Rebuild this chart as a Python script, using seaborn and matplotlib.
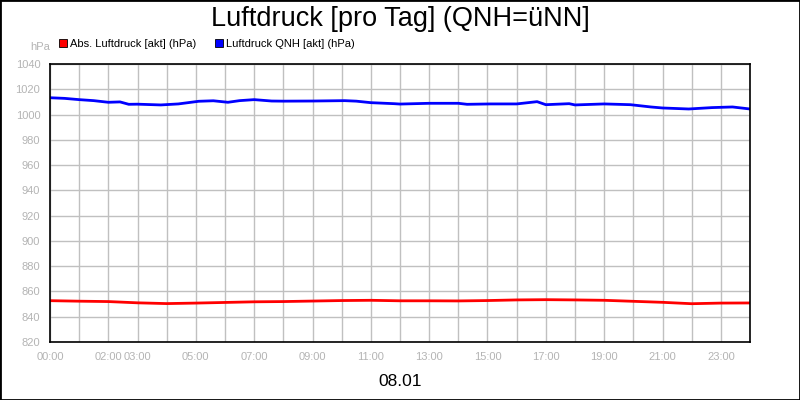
import numpy as np
import pandas as pd
import seaborn as sns
import matplotlib
matplotlib.use("Agg")
import matplotlib.pyplot as plt
from matplotlib.lines import Line2D

hours = [0, 0.5, 1, 1.5, 2, 2.4, 2.7, 3, 3.8, 4.4, 5.1, 5.6, 6.1, 6.5, 7, 7.6,
         8, 9, 10.1, 10.5, 11, 11.8, 12, 13, 14, 14.3, 15.1, 16, 16.7, 17,
         17.8, 18, 19, 19.9, 20.6, 21, 21.9, 22.7, 23.4, 24]
qnh = [1013.3, 1012.8, 1011.8, 1011.0, 1009.7, 1010.0, 1008.1, 1008.2, 1007.6,
       1008.4, 1010.5, 1010.9, 1009.7, 1011.0, 1011.8, 1010.7, 1010.6, 1010.7,
       1011.0, 1010.6, 1009.4, 1008.6, 1008.3, 1008.9, 1008.9, 1008.1, 1008.4,
       1008.4, 1010.2, 1007.8, 1008.6, 1007.6, 1008.4, 1007.8, 1006.0, 1005.2,
       1004.4, 1005.5, 1006.0, 1004.4]

abs_hours = list(range(0, 25))
abs_p = [852.7, 852.3, 852.0, 851.0, 850.4, 850.8, 851.3, 851.8, 852.0, 852.4,
         852.8, 853.0, 852.6, 852.6, 852.5, 852.8, 853.3, 853.5, 853.3, 853.0,
         852.2, 851.4, 850.3, 850.8, 850.9]

tick_hours = list(range(0, 25))
tick_labels = {0: "00:00", 2: "02:00", 3: "03:00", 5: "05:00", 7: "07:00", 9: "09:00",
               11: "11:00", 13: "13:00", 15: "15:00", 17: "17:00", 19: "19:00",
               21: "21:00", 23: "23:00"}

df_qnh = pd.DataFrame({"h": hours, "p": qnh})
df_abs = pd.DataFrame({"h": abs_hours, "p": abs_p})

sns.set_style("white")
plt.rcParams["font.family"] = ["Liberation Sans", "DejaVu Sans"]

fig = plt.figure(figsize=(8, 4), dpi=100)
ax = fig.add_axes([50 / 800, 58 / 400, 700 / 800, 278 / 400])

sns.lineplot(data=df_abs, x="h", y="p", color="#ff0000", lw=2, ax=ax)
sns.lineplot(data=df_qnh, x="h", y="p", color="#0000ff", lw=2, ax=ax)

ax.set_xlim(0, 24)
ax.set_ylim(820, 1040)
ax.set_yticks(np.arange(820, 1041, 20))
ax.set_xticks(tick_hours)
ax.set_xticklabels([tick_labels.get(h, "") for h in tick_hours])
ax.grid(True, color="#c0c0c0", lw=1)
ax.tick_params(colors="#b4b4b4", labelsize=8, length=5, width=1, pad=2)
ax.set_xlabel("")
ax.set_ylabel("")
for s in ax.spines.values():
    s.set_color("black")
    s.set_linewidth(1.2)

fig.text(0.5, 0.953, "Luftdruck [pro Tag] (QNH=üNN]", ha="center", va="center",
         fontsize=19.5, color="black")
fig.text(0.5, 0.047, "08.01", ha="center", va="center", fontsize=12.5, color="black")
fig.text(30 / 800, 1 - 47 / 400, "hPa", ha="left", va="center", fontsize=8, color="#b4b4b4")

handles = [Line2D([], [], ls="", marker="s", markersize=6, markerfacecolor="#ff0000",
                  markeredgecolor="black", markeredgewidth=0.6),
           Line2D([], [], ls="", marker="s", markersize=6, markerfacecolor="#0000ff",
                  markeredgecolor="black", markeredgewidth=0.6)]
leg = fig.legend(handles, ["Abs. Luftdruck [akt] (hPa)", "Luftdruck QNH [akt] (hPa)"],
                 loc="center left", bbox_to_anchor=(52 / 800, 1 - 44 / 400), ncol=2,
                 frameon=False, fontsize=8, handletextpad=0.1, columnspacing=1.6,
                 handlelength=1, borderpad=0)
for t in leg.get_texts():
    t.set_color("black")

fig.patches.append(plt.Rectangle((0, 0), 1, 1, transform=fig.transFigure, fill=False,
                                 edgecolor="black", lw=2))

fig.savefig("out.png", dpi=100)
